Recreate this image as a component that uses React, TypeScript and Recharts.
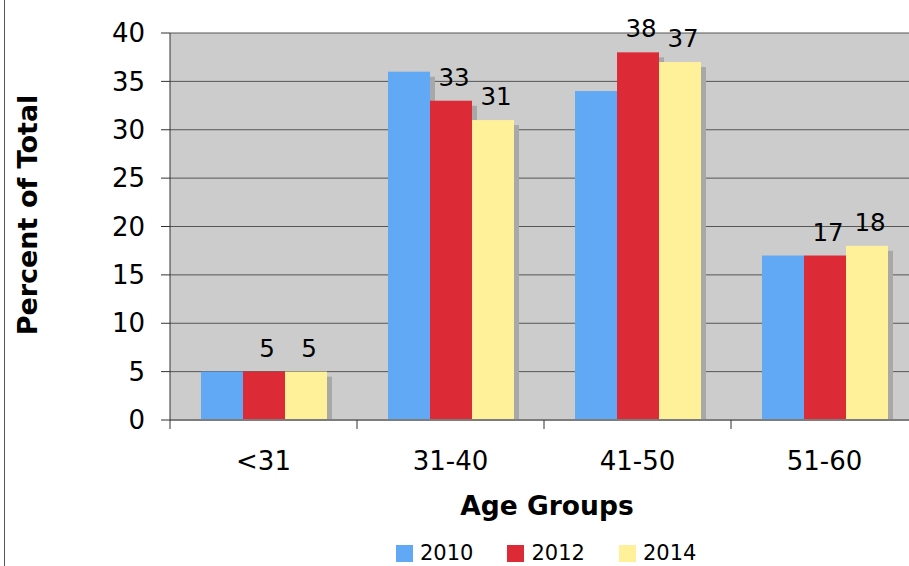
import { BarChart, Bar, XAxis, YAxis, CartesianGrid, Legend, LabelList } from 'recharts';

const ageGroups = ['<31', '31-40', '41-50', '51-60'];
const pct2010 = [5, 36, 34, 17];
const pct2012 = [5, 33, 38, 17];
const pct2014 = [5, 31, 37, 18];
const yTicks = [0, 5, 10, 15, 20, 25, 30, 35, 40];
const years = ['2010', '2012', '2014'];
const colors = ['#62a9f5', '#dc2a37', '#fff09a'];

const data = ageGroups.map((g, i) => ({
  group: g,
  y2010: pct2010[i],
  y2012: pct2012[i],
  y2014: pct2014[i],
}));

const FONT = '"DejaVu Sans", Verdana, sans-serif';
const PLOT_W = 748;
const BAND = PLOT_W / ageGroups.length;

// bar with a gray drop shadow down-right, like the old office chart
function ShadowBar(props: any) {
  const { x, y, width, height, fill } = props;
  if (!height) return null;
  return (
    <g>
      <rect x={x + 5} y={y + 5} width={width} height={Math.max(height - 5, 0)} fill="#a8a8a8" />
      <rect x={x} y={y} width={width} height={height} fill={fill} />
    </g>
  );
}

function ValueLabel(props: any) {
  const { x, y, width, value } = props;
  return (
    <text x={x + width / 2 + 3} y={y - 15} textAnchor="middle" fontSize={24.5} fill="#000">
      {value}
    </text>
  );
}

// ticks sit on category boundaries, labels in the middle
function XTick(props: any) {
  const { x, y, payload } = props;
  const left = x - BAND / 2;
  return (
    <g>
      <line x1={left} y1={y} x2={left} y2={y + 9} stroke="#333" />
      <text x={x} y={y + 50} textAnchor="middle" fontSize={26} fill="#000">
        {payload.value}
      </text>
    </g>
  );
}

function XTitle(props: any) {
  const vb = props.viewBox ?? { x: 170, y: 420, width: PLOT_W };
  return (
    <text x={vb.x + vb.width / 2 + 3} y={vb.y + 95} textAnchor="middle" fontSize={26.5} fontWeight="bold" fill="#000">
      Age Groups
    </text>
  );
}

function YTitle() {
  return (
    <text x={37} y={215} transform="rotate(-90, 37, 215)" textAnchor="middle" fontSize={27} fontWeight="bold" fill="#000">
      Percent of Total
    </text>
  );
}

function LegendContent() {
  return (
    <div style={{ display: 'flex', alignItems: 'center', height: 26, paddingLeft: 396, fontSize: 21, lineHeight: 1, color: '#000' }}>
      {years.map((yr, i) => (
        <div key={yr} style={{ display: 'flex', alignItems: 'center', marginRight: 34 }}>
          <span style={{ display: 'inline-block', width: 17, height: 17, background: colors[i], marginRight: 7 }} />
          <span>{yr}</span>
        </div>
      ))}
    </div>
  );
}

export default function App() {
  return (
    <div style={{ position: 'fixed', left: 0, top: 0, width: 909, height: 566, overflow: 'hidden', background: '#fff', fontFamily: FONT }}>
      <div style={{ position: 'absolute', left: 4, top: 0, width: 1, height: 566, background: '#555' }} />
      <BarChart
        width={930}
        height={566}
        data={data}
        margin={{ top: 33, right: 12, left: 0, bottom: 0 }}
        barCategoryGap={31}
        barGap={0}
      >
        <CartesianGrid vertical={false} stroke="#555" fill="#cccccc" />
        <XAxis
          dataKey="group"
          height={120}
          tickSize={0}
          tickMargin={0}
          tickLine={false}
          axisLine={{ stroke: '#7d7d7d', strokeWidth: 2 }}
          tick={<XTick />}
          interval={0}
          label={<XTitle />}
        />
        <YAxis
          width={170}
          domain={[0, 40]}
          ticks={yTicks}
          interval={0}
          tickSize={9}
          tickMargin={16}
          axisLine={{ stroke: '#333' }}
          tickLine={{ stroke: '#333' }}
          tick={{ fontSize: 26, fill: '#000' }}
          label={<YTitle />}
        />
        <Legend verticalAlign="bottom" content={<LegendContent />} wrapperStyle={{ left: 0, width: 930 }} />
        <Bar dataKey="y2010" name={years[0]} fill={colors[0]} shape={<ShadowBar />} isAnimationActive={false} />
        <Bar dataKey="y2012" name={years[1]} fill={colors[1]} shape={<ShadowBar />} isAnimationActive={false}>
          <LabelList dataKey="y2012" content={<ValueLabel />} />
        </Bar>
        <Bar dataKey="y2014" name={years[2]} fill={colors[2]} shape={<ShadowBar />} isAnimationActive={false}>
          <LabelList dataKey="y2014" content={<ValueLabel />} />
        </Bar>
      </BarChart>
    </div>
  );
}
